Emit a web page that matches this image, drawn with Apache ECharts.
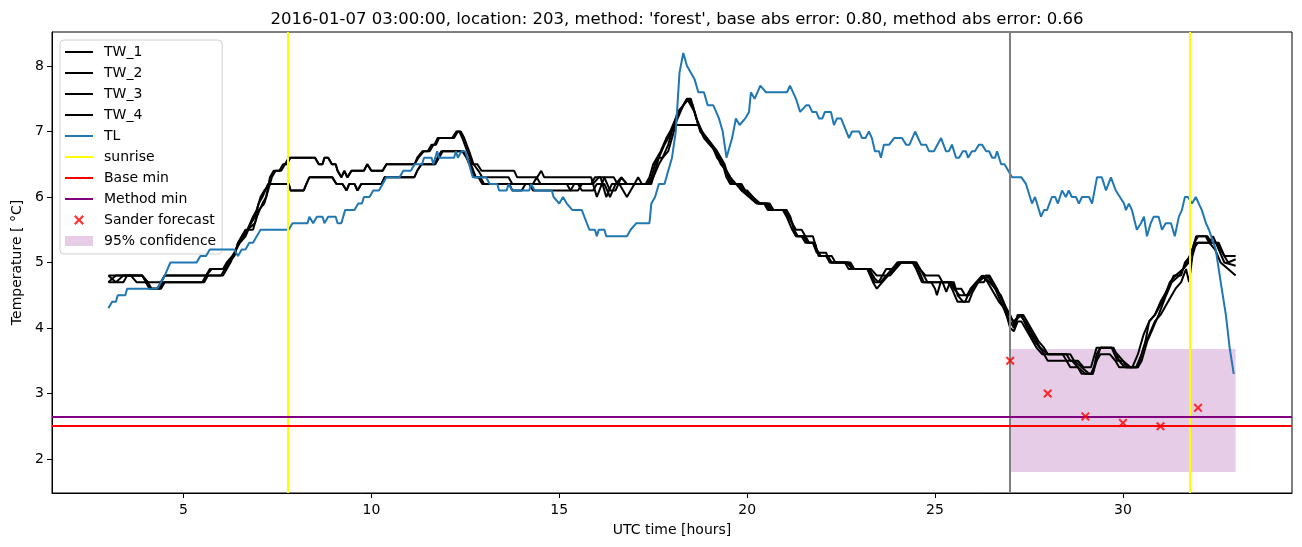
<!DOCTYPE html>
<html><head><meta charset="utf-8">
<script src="https://cdn.jsdelivr.net/npm/echarts@6/dist/echarts.min.js"></script>
<style>html,body{margin:0;padding:0;background:#fff}#c{width:1302px;height:547px}</style>
</head><body><div id="c"></div><script>
// ---------- data (hours UTC, temperature °C) ----------
const titleText = "2016-01-07 03:00:00, location: 203, method: 'forest', base abs error: 0.80, method abs error: 0.66";
const xTicks = [5, 10, 15, 20, 25, 30];
const yTicks = [2, 3, 4, 5, 6, 7, 8];

const TW_1 = [[3.0,4.8],[3.9,4.8],[4.0,4.7],[4.1,4.6],[4.3,4.6],[4.4,4.7],[4.5,4.8],[5.6,4.8],[5.7,4.9],[6.05,4.9],[6.15,5.0],[6.3,5.1],[6.4,5.2],[6.55,5.4],[6.65,5.5],[6.85,5.5],[6.95,5.7],[7.1,5.9],[7.2,6.0],[7.3,6.3],[7.4,6.4],[7.55,6.4],[7.65,6.5],[7.75,6.5],[7.85,6.6],[8.5,6.6],[8.6,6.5],[8.7,6.5],[8.75,6.6],[8.85,6.6],[8.95,6.5],[9.05,6.5],[9.1,6.4],[9.2,6.3],[9.28,6.4],[9.36,6.3],[9.47,6.4],[9.8,6.4],[9.89,6.5],[10.0,6.4],[10.3,6.4],[10.4,6.5],[11.15,6.5],[11.22,6.6],[11.36,6.7],[11.5,6.7],[11.6,6.8],[11.68,6.8],[11.76,6.9],[12.15,6.9],[12.26,7.0],[12.34,7.0],[12.42,6.9],[12.55,6.7],[12.69,6.5],[12.82,6.5],[12.93,6.4],[13.8,6.4],[13.88,6.3],[14.41,6.3],[14.52,6.4],[14.6,6.3],[15.85,6.3],[16.0,6.0],[16.2,6.3],[16.45,6.3],[16.55,6.2],[17.3,6.2],[17.4,6.3],[17.5,6.5],[17.6,6.6],[17.7,6.7],[17.85,6.9],[17.95,7.0],[18.1,7.2],[18.2,7.3],[18.3,7.4],[18.45,7.5],[18.55,7.4],[18.65,7.2],[18.8,7.0],[19.0,6.85],[19.2,6.7],[19.4,6.5],[19.5,6.3],[19.6,6.2],[19.8,6.2],[19.9,6.1],[20.1,6.0],[20.3,5.9],[20.6,5.9],[20.7,5.8],[21.05,5.8],[21.15,5.7],[21.25,5.5],[21.35,5.4],[21.55,5.4],[21.65,5.3],[21.8,5.3],[21.9,5.1],[22.15,5.1],[22.25,5.0],[22.65,5.0],[22.8,4.9],[23.25,4.9],[23.4,4.75],[23.5,4.7],[23.6,4.8],[23.8,4.8],[23.95,4.9],[24.1,5.0],[24.45,5.0],[24.55,4.9],[24.7,4.7],[25.4,4.7],[25.5,4.6],[25.65,4.5],[25.85,4.5],[25.95,4.6],[26.1,4.7],[26.3,4.8],[26.45,4.7],[26.6,4.6],[26.75,4.4],[26.9,4.2],[27.0,4.1],[27.1,4.0],[27.2,4.2],[27.35,4.2],[27.55,4.0],[27.75,3.8],[27.9,3.7],[28.0,3.6],[28.5,3.6],[28.6,3.5],[28.8,3.5],[28.95,3.4],[29.15,3.4],[29.25,3.6],[29.3,3.7],[29.7,3.7],[29.85,3.5],[30.0,3.5],[30.1,3.4],[30.35,3.4],[30.5,3.6],[30.6,3.8],[30.7,4.1],[30.85,4.2],[31.0,4.4],[31.2,4.6],[31.35,4.8],[31.55,4.8],[31.65,5.0],[31.8,5.1],[31.95,5.4],[32.25,5.4],[32.35,5.3],[32.55,5.3],[32.7,5.1],[33.0,5.1]];

const TW_2 = [[3.0,4.7],[3.2,4.8],[3.9,4.8],[4.05,4.7],[4.4,4.7],[4.5,4.8],[5.6,4.8],[5.75,4.9],[6.1,4.9],[6.2,5.0],[6.35,5.1],[6.45,5.3],[6.6,5.4],[6.7,5.5],[6.9,5.6],[7.0,5.8],[7.15,5.9],[7.25,6.1],[7.35,6.3],[7.45,6.4],[7.6,6.4],[7.7,6.5],[7.8,6.6],[8.5,6.6],[8.6,6.5],[8.7,6.5],[8.75,6.6],[8.85,6.6],[8.95,6.5],[9.05,6.5],[9.1,6.4],[9.2,6.3],[9.28,6.4],[9.36,6.3],[9.47,6.4],[9.8,6.4],[9.89,6.5],[10.0,6.4],[10.3,6.4],[10.4,6.5],[11.15,6.5],[11.25,6.6],[11.4,6.7],[11.55,6.7],[11.65,6.8],[11.72,6.8],[11.8,6.9],[12.2,6.9],[12.3,7.0],[12.38,7.0],[12.47,6.9],[12.6,6.7],[12.72,6.5],[12.85,6.4],[12.95,6.3],[13.65,6.3],[13.75,6.2],[15.2,6.2],[15.3,6.1],[15.5,6.1],[15.6,6.2],[15.85,6.2],[15.95,6.3],[16.1,6.3],[16.25,6.0],[16.4,6.2],[16.6,6.2],[16.8,6.0],[17.0,6.2],[17.4,6.2],[17.5,6.3],[17.65,6.5],[17.75,6.6],[17.9,6.8],[18.0,7.0],[18.15,7.2],[18.3,7.4],[18.4,7.5],[18.5,7.4],[18.6,7.3],[18.75,7.0],[18.9,6.9],[19.05,6.8],[19.25,6.6],[19.45,6.4],[19.55,6.3],[19.65,6.2],[19.85,6.2],[19.95,6.1],[20.15,6.0],[20.35,5.9],[20.55,5.9],[20.65,5.8],[21.0,5.8],[21.1,5.7],[21.2,5.6],[21.3,5.5],[21.45,5.5],[21.55,5.4],[21.75,5.4],[21.85,5.2],[21.95,5.1],[22.25,5.1],[22.35,5.0],[22.75,5.0],[22.85,4.9],[23.3,4.9],[23.45,4.8],[23.6,4.8],[23.7,4.9],[23.9,4.9],[24.0,5.0],[24.5,5.0],[24.6,4.9],[24.75,4.8],[25.1,4.8],[25.2,4.7],[25.45,4.7],[25.55,4.6],[25.7,4.6],[25.8,4.5],[25.9,4.5],[26.0,4.6],[26.15,4.7],[26.35,4.8],[26.45,4.8],[26.55,4.7],[26.65,4.6],[26.8,4.4],[26.95,4.2],[27.0,4.2],[27.1,4.1],[27.25,4.2],[27.4,4.1],[27.6,3.9],[27.8,3.7],[28.0,3.6],[28.6,3.6],[28.7,3.5],[28.9,3.4],[29.1,3.3],[29.2,3.3],[29.3,3.5],[29.4,3.7],[29.7,3.7],[29.85,3.6],[30.0,3.5],[30.2,3.4],[30.4,3.4],[30.55,3.7],[30.7,3.9],[30.85,4.1],[31.0,4.2],[31.2,4.4],[31.4,4.6],[31.55,4.7],[31.68,4.9],[31.76,4.7],[31.85,5.1],[31.95,5.3],[32.3,5.3],[32.4,5.4],[32.55,5.2],[32.7,5.0],[33.0,4.95]];

const TW_3 = [[3.0,4.8],[3.2,4.7],[3.4,4.8],[3.6,4.8],[3.75,4.7],[4.0,4.7],[4.1,4.6],[4.4,4.6],[4.5,4.7],[5.5,4.7],[5.6,4.8],[6.0,4.8],[6.1,4.9],[6.2,5.0],[6.35,5.1],[6.45,5.3],[6.55,5.4],[6.7,5.5],[6.85,5.7],[6.95,5.8],[7.05,6.0],[7.15,6.1],[7.3,6.2],[7.8,6.2],[7.85,6.1],[8.2,6.1],[8.27,6.2],[8.35,6.3],[8.96,6.3],[9.07,6.2],[9.23,6.2],[9.34,6.1],[9.41,6.2],[9.55,6.2],[9.63,6.1],[9.73,6.2],[10.27,6.2],[10.35,6.3],[11.14,6.3],[11.22,6.4],[11.33,6.5],[11.68,6.5],[11.76,6.6],[11.86,6.7],[12.42,6.7],[12.53,6.6],[12.61,6.5],[12.74,6.3],[12.85,6.3],[12.95,6.2],[13.67,6.2],[13.75,6.1],[14.0,6.1],[14.1,6.2],[14.2,6.2],[14.3,6.1],[15.3,6.1],[15.4,6.2],[15.5,6.2],[15.6,6.1],[15.9,6.1],[16.0,6.2],[16.2,6.2],[16.35,6.0],[16.5,6.2],[16.65,6.3],[16.8,6.2],[17.45,6.2],[17.55,6.4],[17.65,6.6],[17.75,6.6],[17.9,6.7],[18.0,6.9],[18.1,7.1],[18.7,7.1],[18.85,6.9],[19.0,6.8],[19.15,6.7],[19.3,6.5],[19.45,6.4],[19.55,6.3],[19.7,6.2],[19.85,6.1],[20.0,6.1],[20.15,6.0],[20.3,5.9],[20.5,5.9],[20.6,5.8],[21.0,5.8],[21.1,5.7],[21.2,5.6],[21.3,5.4],[21.45,5.4],[21.55,5.3],[21.8,5.3],[21.85,5.2],[21.95,5.1],[22.1,5.1],[22.2,5.0],[22.6,5.0],[22.7,4.9],[23.2,4.9],[23.35,4.7],[23.45,4.6],[23.6,4.7],[23.75,4.8],[23.9,4.9],[24.05,5.0],[24.4,5.0],[24.5,4.9],[24.65,4.7],[24.9,4.7],[25.0,4.6],[25.05,4.5],[25.15,4.7],[25.35,4.7],[25.45,4.6],[25.6,4.4],[25.8,4.4],[25.95,4.6],[26.1,4.7],[26.25,4.8],[26.4,4.7],[26.5,4.6],[26.7,4.4],[26.85,4.3],[26.95,4.1],[27.0,4.0],[27.1,3.95],[27.2,4.1],[27.3,4.1],[27.5,3.9],[27.7,3.7],[27.85,3.6],[28.0,3.6],[28.4,3.6],[28.5,3.5],[28.65,3.5],[28.8,3.4],[29.0,3.3],[29.15,3.3],[29.3,3.5],[29.4,3.6],[29.65,3.6],[29.8,3.5],[29.9,3.4],[30.25,3.4],[30.4,3.6],[30.55,3.9],[30.7,4.1],[30.85,4.2],[31.05,4.4],[31.25,4.7],[31.4,4.8],[31.6,4.9],[31.75,5.0],[31.9,5.3],[32.0,5.4],[32.2,5.4],[32.3,5.3],[32.5,5.3],[32.6,5.2],[32.8,5.0],[33.0,5.05]];

const TW_4 = [[3.0,4.7],[3.4,4.7],[3.5,4.8],[3.9,4.8],[4.05,4.7],[4.15,4.6],[4.35,4.6],[4.45,4.7],[5.55,4.7],[5.65,4.8],[6.05,4.8],[6.15,4.9],[6.25,5.0],[6.4,5.2],[6.5,5.3],[6.65,5.4],[6.8,5.6],[6.9,5.7],[7.0,5.9],[7.1,6.0],[7.25,6.2],[7.8,6.2],[7.85,6.1],[8.2,6.1],[8.27,6.2],[8.35,6.3],[8.96,6.3],[9.07,6.2],[9.23,6.2],[9.34,6.1],[9.41,6.2],[9.55,6.2],[9.63,6.1],[9.73,6.2],[10.27,6.2],[10.35,6.3],[11.14,6.3],[11.22,6.4],[11.33,6.5],[11.7,6.5],[11.8,6.6],[11.9,6.7],[12.45,6.7],[12.55,6.6],[12.65,6.5],[12.78,6.3],[12.9,6.3],[13.0,6.2],[14.3,6.2],[14.4,6.3],[14.5,6.2],[15.9,6.2],[16.05,6.3],[16.2,6.3],[16.35,6.1],[16.5,6.1],[16.65,6.3],[16.8,6.2],[17.0,6.2],[17.1,6.3],[17.2,6.2],[17.35,6.2],[17.45,6.3],[17.55,6.5],[17.65,6.6],[17.8,6.8],[17.9,6.9],[18.05,7.1],[18.15,7.3],[18.3,7.4],[18.4,7.5],[18.5,7.5],[18.6,7.3],[18.7,7.1],[18.85,6.95],[19.05,6.8],[19.2,6.6],[19.35,6.5],[19.45,6.3],[19.55,6.2],[19.75,6.2],[19.85,6.1],[20.05,6.0],[20.25,5.9],[20.45,5.9],[20.55,5.8],[20.95,5.8],[21.05,5.7],[21.2,5.5],[21.3,5.4],[21.5,5.4],[21.6,5.3],[21.75,5.3],[21.85,5.15],[22.1,5.15],[22.2,5.0],[22.7,5.0],[22.8,4.9],[23.2,4.9],[23.3,4.8],[23.4,4.7],[23.55,4.7],[23.7,4.8],[23.85,4.9],[24.0,5.0],[24.5,5.0],[24.6,4.9],[24.7,4.8],[24.8,4.7],[25.2,4.7],[25.3,4.55],[25.4,4.7],[25.5,4.7],[25.6,4.5],[25.75,4.4],[25.9,4.4],[26.0,4.55],[26.15,4.7],[26.3,4.7],[26.4,4.8],[26.5,4.7],[26.6,4.6],[26.75,4.5],[26.9,4.3],[27.0,4.2],[27.1,4.05],[27.2,4.15],[27.3,4.2],[27.45,4.0],[27.65,3.8],[27.85,3.65],[28.0,3.5],[28.5,3.5],[28.6,3.4],[28.8,3.4],[28.9,3.3],[29.2,3.3],[29.3,3.6],[29.4,3.7],[29.75,3.7],[29.9,3.5],[30.05,3.4],[30.4,3.4],[30.5,3.5],[30.65,3.8],[30.8,4.0],[30.95,4.2],[31.15,4.5],[31.3,4.7],[31.5,4.8],[31.7,5.0],[31.85,5.2],[32.0,5.3],[32.3,5.3],[32.45,5.2],[32.6,5.0],[32.8,4.9],[33.0,4.8]];

const TL = [[3.0,4.3],[3.1,4.4],[3.2,4.4],[3.25,4.5],[3.45,4.5],[3.5,4.6],[4.3,4.6],[4.4,4.7],[4.5,4.8],[4.65,5.0],[5.35,5.0],[5.45,5.1],[5.6,5.1],[5.7,5.2],[6.35,5.2],[6.45,5.1],[6.55,5.2],[6.65,5.2],[6.75,5.3],[6.85,5.3],[6.95,5.4],[7.05,5.5],[7.8,5.5],[7.9,5.6],[8.3,5.6],[8.35,5.7],[8.45,5.6],[8.55,5.7],[8.7,5.7],[8.75,5.6],[8.85,5.7],[9.05,5.7],[9.1,5.6],[9.2,5.6],[9.3,5.8],[9.55,5.8],[9.65,5.9],[9.75,5.9],[9.8,6.0],[9.95,6.0],[10.05,6.1],[10.2,6.1],[10.3,6.2],[10.4,6.3],[10.75,6.3],[10.85,6.4],[11.05,6.4],[11.15,6.5],[11.35,6.5],[11.4,6.6],[11.6,6.6],[11.65,6.5],[11.75,6.7],[11.8,6.6],[12.2,6.6],[12.25,6.7],[12.3,6.6],[12.4,6.7],[12.5,6.7],[12.6,6.5],[12.7,6.3],[13.05,6.3],[13.15,6.2],[13.35,6.2],[13.4,6.1],[13.6,6.1],[13.65,6.2],[13.75,6.1],[14.2,6.1],[14.25,6.2],[14.35,6.1],[14.8,6.1],[14.85,6.0],[15.0,5.9],[15.1,6.0],[15.2,5.9],[15.35,5.8],[15.6,5.8],[15.8,5.5],[15.95,5.5],[16.0,5.4],[16.05,5.5],[16.2,5.5],[16.25,5.4],[16.8,5.4],[16.9,5.5],[17.05,5.6],[17.4,5.6],[17.45,5.9],[17.55,6.0],[17.65,6.2],[17.8,6.2],[17.9,6.4],[18.0,6.6],[18.1,7.0],[18.2,7.9],[18.3,8.2],[18.4,8.0],[18.6,7.8],[18.7,7.6],[18.85,7.6],[18.95,7.4],[19.1,7.4],[19.25,7.2],[19.35,7.0],[19.45,6.6],[19.6,6.9],[19.7,7.2],[19.8,7.1],[19.95,7.2],[20.05,7.3],[20.1,7.6],[20.2,7.5],[20.35,7.7],[20.5,7.6],[21.06,7.6],[21.14,7.7],[21.3,7.5],[21.41,7.3],[21.46,7.3],[21.57,7.4],[21.65,7.4],[21.73,7.3],[21.84,7.3],[21.91,7.2],[22.0,7.2],[22.07,7.3],[22.23,7.3],[22.31,7.1],[22.39,7.2],[22.5,7.2],[22.71,6.9],[22.79,7.0],[22.98,7.0],[23.06,6.9],[23.15,6.9],[23.24,7.0],[23.32,6.9],[23.4,6.7],[23.51,6.7],[23.56,6.6],[23.64,6.8],[23.78,6.8],[23.91,6.9],[24.12,6.9],[24.23,6.8],[24.32,6.8],[24.47,7.0],[24.63,6.8],[24.76,6.8],[24.84,6.7],[24.97,6.7],[25.16,6.9],[25.29,6.7],[25.37,6.7],[25.45,6.8],[25.56,6.6],[25.64,6.6],[25.74,6.7],[25.82,6.7],[25.88,6.6],[25.98,6.7],[26.06,6.7],[26.17,6.8],[26.25,6.8],[26.36,6.7],[26.44,6.7],[26.52,6.6],[26.6,6.6],[26.65,6.7],[26.76,6.5],[26.85,6.5],[26.95,6.4],[27.05,6.3],[27.3,6.3],[27.42,6.2],[27.58,5.9],[27.66,6.0],[27.82,5.7],[27.9,5.8],[27.98,5.8],[28.11,6.0],[28.2,6.0],[28.27,5.9],[28.38,6.1],[28.48,6.0],[28.56,6.1],[28.64,6.0],[28.75,6.0],[28.83,5.9],[28.91,6.0],[29.1,6.0],[29.18,5.9],[29.31,6.3],[29.44,6.3],[29.55,6.1],[29.68,6.3],[29.81,6.1],[30.03,5.9],[30.08,5.8],[30.16,5.9],[30.24,5.8],[30.37,5.5],[30.48,5.6],[30.56,5.7],[30.64,5.4],[30.74,5.6],[30.82,5.7],[30.95,5.7],[31.04,5.5],[31.14,5.6],[31.28,5.6],[31.38,5.4],[31.49,5.7],[31.57,5.8],[31.65,6.0],[31.73,6.0],[31.84,5.9],[31.94,6.0],[32.02,5.9],[32.1,5.8],[32.21,5.6],[32.29,5.5],[32.47,5.2],[32.55,4.9],[32.63,4.6],[32.74,4.2],[32.84,3.7],[32.95,3.3]];

const sunriseTimes = [7.78, 31.77];
const forecastStart = 27;
const baseMin = 2.5;
const methodMin = 2.64;
const sanderX = [27, 28, 29, 30, 31, 32];
const sanderY = [3.5, 3.0, 2.65, 2.55, 2.5, 2.78];
const confX = [27, 33];
const confY = [1.8, 3.68];

// ---------- chart ----------
const FONT = 'DejaVu Sans';
const chart = echarts.init(document.getElementById('c'), null, {renderer: 'canvas'});
const XPATH = 'path://M0,1.6 L1.6,0 L5,3.4 L8.4,0 L10,1.6 L6.6,5 L10,8.4 L8.4,10 L5,6.6 L1.6,10 L0,8.4 L3.4,5 Z';
const LINEICON = 'path://M0,0 L28,0 L28,2 L0,2 Z';
function twSeries(name, data) {
  return {name, type: 'line', data, symbol: 'none', showSymbol: false, color: '#000000',
    lineStyle: {color: '#000000', width: 2}, z: 4, animation: false};
}
function vline(name, xs, color, z) {
  return {name, type: 'line', data: [], color, lineStyle: {color, width: 2}, symbol: 'none', z,
    markLine: {silent: true, symbol: ['none', 'none'], label: {show: false}, animation: false,
      lineStyle: {color, width: 2, type: 'solid'}, data: xs.map(x => ({xAxis: x}))}};
}
function hline(name, y, color) {
  return {name, type: 'line', data: [], color, lineStyle: {color, width: 2}, symbol: 'none', z: 6,
    markLine: {silent: true, symbol: ['none', 'none'], label: {show: false}, animation: false,
      lineStyle: {color, width: 2, type: 'solid'}, data: [{yAxis: y}]}};
}
const lineNames = ['TW_1', 'TW_2', 'TW_3', 'TW_4', 'TL', 'sunrise', 'Base min', 'Method min'];
const option = {
  animation: false,
  backgroundColor: '#ffffff',
  textStyle: {fontFamily: FONT, color: '#000'},
  title: {text: titleText, left: 672, textAlign: 'center', top: 6,
    textStyle: {fontFamily: FONT, fontSize: 16.5, fontWeight: 'normal', color: '#000'}},
  grid: {left: 52, top: 32, width: 1240, height: 461, show: true, borderColor: '#000', borderWidth: 1,
    backgroundColor: 'transparent', containLabel: false},
  xAxis: {type: 'value', min: 1.5, max: 34.5,
    name: 'UTC time [hours]', nameLocation: 'middle', nameGap: 30,
    nameTextStyle: {fontFamily: FONT, fontSize: 14, color: '#000'},
    axisLine: {show: true, onZero: false, lineStyle: {color: '#000', width: 1}},
    axisTick: {show: true, customValues: xTicks, length: 5, lineStyle: {color: '#000', width: 1}},
    axisLabel: {customValues: xTicks, margin: 10, fontFamily: FONT, fontSize: 14, color: '#000'},
    splitLine: {show: false}},
  yAxis: {type: 'value', min: 1.48, max: 8.52,
    name: 'Temperature [ °C]', nameLocation: 'middle', nameGap: 27, nameRotate: 90,
    nameTextStyle: {fontFamily: FONT, fontSize: 14, color: '#000'},
    axisLine: {show: true, onZero: false, lineStyle: {color: '#000', width: 1}},
    axisTick: {show: true, customValues: yTicks, length: 5, lineStyle: {color: '#000', width: 1}},
    axisLabel: {customValues: yTicks, margin: 8, fontFamily: FONT, fontSize: 14, color: '#000'},
    splitLine: {show: false}},
  legend: {orient: 'vertical', left: 60, top: 40, padding: [5, 6, 6, 5], itemGap: 7,
    itemWidth: 28, itemHeight: 10, backgroundColor: 'rgba(255,255,255,0.85)',
    borderColor: '#d0d0d0', borderWidth: 1, borderRadius: 4,
    textStyle: {fontFamily: FONT, fontSize: 14, color: '#000', padding: [0, 0, 0, 6]},
    data: lineNames.map(n => ({name: n, icon: LINEICON})).concat([
      {name: 'Sander forecast', icon: XPATH}, {name: '95% confidence', icon: 'rect'}])},
  series: [
    {name: '95% confidence', type: 'line', data: [], symbol: 'none', z: 1,
      color: 'rgba(128,0,128,0.2)', itemStyle: {color: 'rgba(128,0,128,0.2)'},
      markArea: {silent: true, itemStyle: {color: 'rgba(128,0,128,0.2)'},
        data: [[{xAxis: confX[0], yAxis: confY[1]}, {xAxis: confX[1], yAxis: confY[0]}]]}},
    twSeries('TW_1', TW_1),
    twSeries('TW_2', TW_2),
    twSeries('TW_3', TW_3),
    twSeries('TW_4', TW_4),
    {name: 'TL', type: 'line', data: TL, symbol: 'none', showSymbol: false, color: '#1f77b4',
      lineStyle: {color: '#1f77b4', width: 2}, z: 4},
    vline('sunrise', sunriseTimes, '#ffff00', 5),
    vline('forecast start', [forecastStart], '#808080', 5),
    hline('Base min', baseMin, '#ff0000'),
    hline('Method min', methodMin, '#800080'),
    {name: 'Sander forecast', type: 'scatter', data: sanderX.map((x, i) => [x, sanderY[i]]),
      symbol: XPATH, symbolSize: 9, color: '#ff0000', itemStyle: {color: '#ff0000'}, z: 7}
  ]
};
chart.setOption(option);
</script></body></html>
